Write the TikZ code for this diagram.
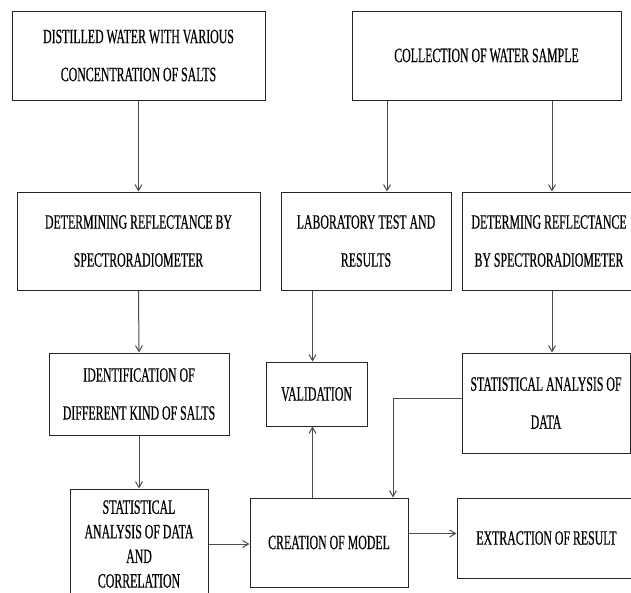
\documentclass[tikz,border=0pt]{standalone}
\usepackage{fontspec}
\setmainfont{Liberation Serif}[FakeStretch=0.58,FakeBold=0.4]
\usetikzlibrary{arrows.meta,calc}
\tikzset{
  box/.style={draw=black!85, line width=1pt, rectangle, inner sep=0pt, align=center,
    text=black, font=\fontsize{20.4}{38}\selectfont},
  tightbox/.style={box, font=\fontsize{20.4}{24.6}\selectfont},
  arr/.style={draw=black!70, line width=1pt, -{Straight Barb[length=6pt,width=7pt]}}
}
\begin{document}
\begin{tikzpicture}[x=1pt,y=-1pt]
\useasboundingbox (0,0) rectangle (631,592);
\fill[white] (0,0) rectangle (631,592);
% row 1
\node[box, minimum width=253pt, minimum height=89pt] (dist) at (138.5,55.5)
  {DISTILLED WATER WITH VARIOUS\\CONCENTRATION OF SALTS};
\node[box, minimum width=269pt, minimum height=89pt] (coll) at (486.5,55.5)
  {COLLECTION OF WATER SAMPLE};
% row 2
\node[box, minimum width=243pt, minimum height=98pt] (det1) at (138.5,241)
  {DETERMINING REFLECTANCE BY\\SPECTRORADIOMETER};
\node[box, minimum width=170pt, minimum height=98pt] (lab) at (366,241)
  {LABORATORY TEST AND\\RESULTS};
\node[box, minimum width=174pt, minimum height=98pt] (det2) at (549,241)
  {DETERMING REFLECTANCE\\BY SPECTRORADIOMETER};
% row 3
\node[box, minimum width=180pt, minimum height=82pt] (ident) at (139,394)
  {IDENTIFICATION OF\\DIFFERENT KIND OF SALTS};
\node[box, minimum width=101pt, minimum height=64pt] (valid) at (316.5,394)
  {VALIDATION};
\node[box, minimum width=168pt, minimum height=100pt] (stat2) at (546,403)
  {STATISTICAL ANALYSIS OF\\DATA};
% row 4
\node[tightbox, minimum width=138pt, minimum height=110pt] (stat1) at (139,544)
  {STATISTICAL\\ANALYSIS OF DATA\\AND\\CORRELATION};
\node[box, minimum width=158pt, minimum height=89pt] (creat) at (329,542.5)
  {CREATION OF MODEL};
\node[box, minimum width=179pt, minimum height=80pt] (extr) at (546.5,538)
  {EXTRACTION OF RESULT};
% connectors
\draw[arr] (dist.south) -- (det1.north);
\draw[arr] ([xshift=21pt]lab.north |- coll.south) -- ([xshift=21pt]lab.north);
\draw[arr] ([xshift=3pt]det2.north |- coll.south) -- ([xshift=3pt]det2.north);
\draw[arr] (det1.south) -- (ident.north);
\draw[arr] (ident.south) -- (stat1.north);
\draw[arr] ([xshift=-4pt]valid.north |- lab.south) -- ([xshift=-4pt]valid.north);
\draw[arr] ([xshift=-4pt]valid.south |- creat.north) -- ([xshift=-4pt]valid.south);
\draw[arr] ([xshift=6pt]stat2.north |- det2.south) -- ([xshift=6pt]stat2.north);
\draw[arr] ([yshift=5pt]stat2.west) -| ([xshift=64pt]creat.north);
\draw[arr] (stat1.east) -- (stat1.east -| creat.west);
\draw[arr] ([yshift=9pt]creat.east) -- ([yshift=9pt]creat.east -| extr.west);
\end{tikzpicture}
\end{document}
